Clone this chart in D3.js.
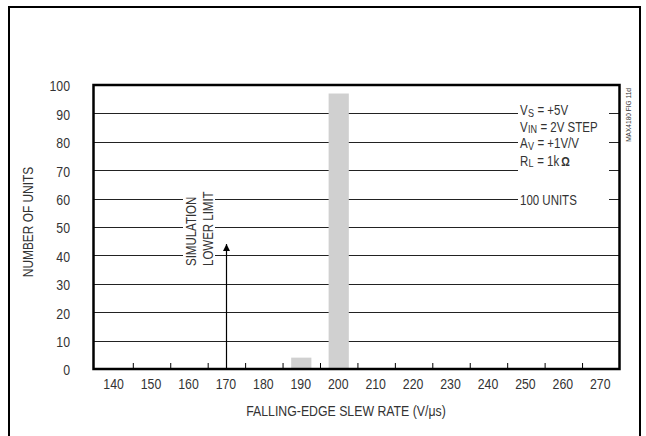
<!DOCTYPE html>
<html>
<head>
<meta charset="utf-8">
<script src="https://cdn.jsdelivr.net/npm/d3@7"></script>
<style>
  body { margin: 0; background: #fff; }
  svg text { font-family: "Liberation Sans", Arial, sans-serif; fill: #333; }
</style>
</head>
<body>
<div id="chart"></div>
<script>
// histogram data
var binCenters = [190, 200];
var unitCounts = [4, 97];
var binWidth = 5.4;

var xLabelValues = [140, 150, 160, 170, 180, 190, 200, 210, 220, 230, 240, 250, 260, 270];
var xTickValues  = [145, 155, 165, 175, 185, 195, 205, 215, 225, 235, 245, 255, 265];
var yLabelValues = [0, 10, 20, 30, 40, 50, 60, 70, 80, 90, 100];
var gridValues   = [10, 20, 30, 40, 50, 60, 70, 80, 90];

var limitValue = 170, limitArrowTop = 44;

var width = 646, height = 436;
var plot = {left: 93.5, right: 619.5, top: 85, bottom: 369};
var squeeze = 0.82;

var svg = d3.select("#chart").append("svg")
    .attr("width", width)
    .attr("height", height);

// narrow face of the original: compress text horizontally, return natural width
function narrow(sel) {
  var w = 0;
  sel.each(function() {
    var len = this.getComputedTextLength();
    w = len;
    if (len > 0) {
      d3.select(this)
        .attr("textLength", len * squeeze)
        .attr("lengthAdjust", "spacingAndGlyphs");
    }
  });
  return w;
}

// outer frame (open at the bottom)
svg.append("path")
    .attr("d", "M9,436 V7 H640 V436")
    .attr("fill", "none")
    .attr("stroke", "#000")
    .attr("stroke-width", 2);

var x = d3.scaleLinear().domain([134.5, 275]).range([plot.left, plot.right]),
    y = d3.scaleLinear().domain([0, 100]).range([plot.bottom, plot.top]);

var g = svg.append("g");

// gridlines
g.selectAll(".grid").data(gridValues).enter()
  .append("line")
    .attr("class", "grid")
    .attr("x1", plot.left)
    .attr("x2", plot.right)
    .attr("y1", function(d) { return Math.round(y(d)) + 0.5; })
    .attr("y2", function(d) { return Math.round(y(d)) + 0.5; })
    .attr("stroke", "#222")
    .attr("stroke-width", 1);

// white boxes behind annotation text
g.append("rect").attr("x", 518).attr("y", 100).attr("width", 91).attr("height", 108).attr("fill", "#fff");
g.append("rect").attr("x", 183).attr("y", 186).attr("width", 32).attr("height", 84).attr("fill", "#fff");

// bars
g.selectAll(".bar").data(binCenters).enter()
  .append("rect")
    .attr("class", "bar")
    .attr("x", function(d) { return x(d - binWidth / 2); })
    .attr("width", function(d) { return x(d + binWidth / 2) - x(d - binWidth / 2); })
    .attr("y", function(d, i) { return y(unitCounts[i]); })
    .attr("height", function(d, i) { return y(0) - y(unitCounts[i]); })
    .attr("fill", "#d0d0d0");

// inner ticks on x axis
g.append("g")
    .attr("transform", "translate(0," + plot.bottom + ")")
    .call(d3.axisBottom(x).tickValues(xTickValues).tickSize(-6).tickFormat(""))
    .call(function(a) { a.select(".domain").remove(); })
    .selectAll("line").attr("stroke", "#000");

// x labels
g.append("g")
    .attr("transform", "translate(-1," + plot.bottom + ")")
    .call(d3.axisBottom(x).tickValues(xLabelValues).tickSize(0).tickPadding(9))
    .call(function(a) { a.select(".domain").remove(); })
    .selectAll("text")
      .style("font-size", "15px")
      .attr("fill", "#333");

// y labels
g.append("g")
    .attr("transform", "translate(" + plot.left + ",1)")
    .call(d3.axisLeft(y).tickValues(yLabelValues).tickSize(0).tickPadding(23.5))
    .call(function(a) { a.select(".domain").remove(); })
    .selectAll("text")
      .style("font-size", "15px")
      .attr("fill", "#333");

// plot border
g.append("rect")
    .attr("x", plot.left)
    .attr("y", plot.top)
    .attr("width", plot.right - plot.left)
    .attr("height", plot.bottom - plot.top)
    .attr("fill", "none")
    .attr("stroke", "#000")
    .attr("stroke-width", 2.5);

// simulation lower limit arrow
svg.append("defs").append("marker")
    .attr("id", "arrow")
    .attr("viewBox", "0 0 10 10")
    .attr("refX", 10).attr("refY", 5)
    .attr("markerWidth", 9).attr("markerHeight", 7)
    .attr("markerUnits", "userSpaceOnUse")
    .attr("orient", "auto")
  .append("path")
    .attr("d", "M0,0 L10,5 L0,10 Z")
    .attr("fill", "#000");

g.append("line")
    .attr("x1", Math.round(x(limitValue)) + 0.5)
    .attr("x2", Math.round(x(limitValue)) + 0.5)
    .attr("y1", y(0))
    .attr("y2", y(limitArrowTop))
    .attr("stroke", "#000")
    .attr("stroke-width", 1.2)
    .attr("marker-end", "url(#arrow)");

g.append("text")
    .attr("transform", "translate(196,266) rotate(-90)")
    .style("font-size", "14px")
    .text("SIMULATION");
g.append("text")
    .attr("transform", "translate(213,266) rotate(-90)")
    .style("font-size", "14px")
    .text("LOWER LIMIT");

svg.append("text")
    .attr("transform", "translate(631,88) rotate(-90)")
    .attr("text-anchor", "end")
    .style("font-size", "8px")
    .text("MAX4180 FIG 11d");

// axis titles
svg.append("text")
    .attr("transform", "translate(33,222) rotate(-90)")
    .attr("text-anchor", "middle")
    .style("font-size", "14.5px")
    .text("NUMBER OF UNITS");

svg.append("text")
    .attr("x", 346)
    .attr("y", 416)
    .attr("text-anchor", "middle")
    .style("font-size", "15px")
    .text("FALLING-EDGE SLEW RATE (V/\u03BCs)");

svg.selectAll("text").each(function() { narrow(d3.select(this)); });

// conditions text, one piece at a time so subscripts sit beside their letter
var notes = [
  {parts: [["V", 14, 0], ["S", 11, 1.5], ["= +5V", 14, 0]], y: 115},
  {parts: [["V", 14, 0], ["IN", 11, 1.5], ["= 2V STEP", 14, 0]], y: 131.5},
  {parts: [["A", 14, 0], ["V", 11, 1.5], ["= +1V/V", 14, 0]], y: 148},
  {parts: [["R", 14, 0], ["L", 11, 1.5], ["= 1k", 14, 0], ["\u03A9", 13, 0, "bold"]], y: 165.5},
  {parts: [["100 UNITS", 14, 0]], y: 205}
];
notes.forEach(function(n) {
  var cx = 520;
  n.parts.forEach(function(p, i) {
    if (p[0].charAt(0) == "=") cx += 3.2;   // the space before "="
    if (p[3]) cx += 1.8;                     // keep the bold omega clear of the k
    var t = g.append("text")
        .attr("x", cx)
        .attr("y", n.y + p[2])
        .style("font-size", p[1] + "px")
        .style("font-weight", p[3] || "normal")
        .text(p[0]);
    cx += narrow(t) * squeeze + 0.3;
  });
});
</script>
</body>
</html>
